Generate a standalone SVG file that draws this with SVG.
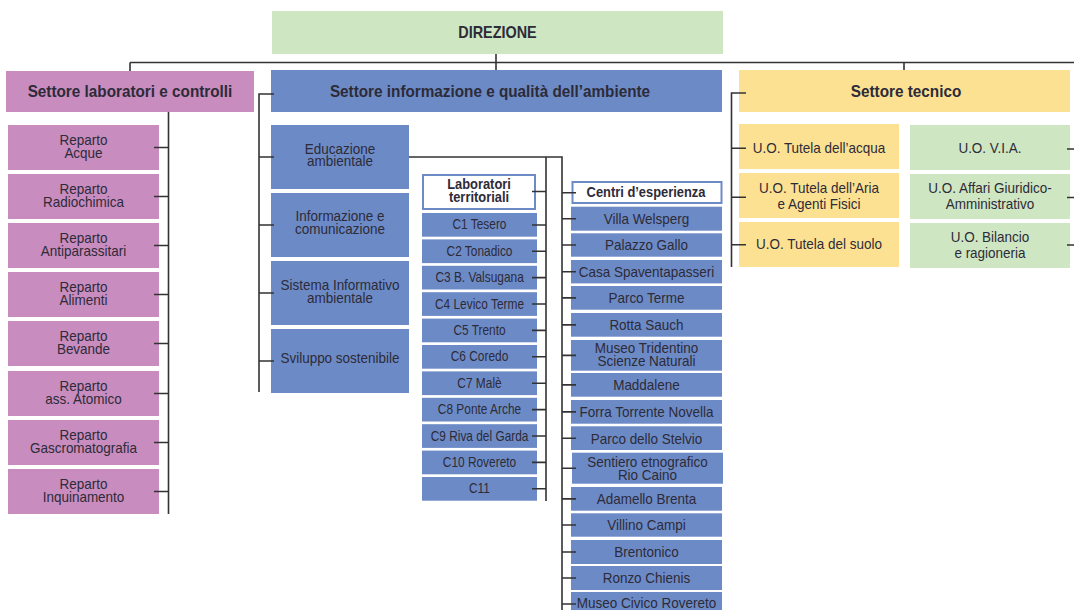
<svg xmlns="http://www.w3.org/2000/svg" width="1074" height="610" viewBox="0 0 1074 610">
<style>
text{font-family:"Liberation Sans",Arial,sans-serif;fill:#2d2b38;text-anchor:middle;transform-box:fill-box;transform-origin:center;transform:scaleX(.9)}
.t{font-size:15px}
.c{font-size:14px;transform:scaleX(.85)}
.h{font-size:17px;font-weight:bold}
.hd{font-size:16px;font-weight:bold}
.hs{font-size:15px;font-weight:bold;transform:scaleX(.86)}
.pk{fill:#c88cbf}
.bl{fill:#6c8ac6}
.ye{fill:#fde192}
.gr{fill:#cfe6c3}
.wh{fill:#fff;stroke:#6c8ac6;stroke-width:2}
.ln{fill:none;stroke:#333;stroke-width:1.6}
</style>
<rect width="1074" height="610" fill="#fff"/>
<g id="direzione"><rect class="gr" x="272" y="11" width="451" height="43"/><text class="hd" x="497.5" y="38.5">DIREZIONE</text></g>
<g id="settore-lab"><rect class="pk" x="6" y="71" width="248" height="41"/><text class="h" x="130" y="97.5">Settore laboratori e controlli</text></g>
<g id="settore-info"><rect class="bl" x="271" y="70" width="451" height="42"/><text class="h" x="490" y="97.5">Settore informazione e qualità dell’ambiente</text></g>
<g id="settore-tecnico"><rect class="ye" x="739" y="70" width="331" height="42"/><text class="h" x="906" y="97.5">Settore tecnico</text></g>

<g id="rep-acque"><rect class="pk" x="8" y="125" width="151" height="45"/><text class="t" x="83.5" y="145.5">Reparto</text><text class="t" x="83.5" y="158">Acque</text></g>
<g id="rep-radio"><rect class="pk" x="8" y="174" width="151" height="45"/><text class="t" x="83.5" y="194.5">Reparto</text><text class="t" x="83.5" y="207">Radiochimica</text></g>
<g id="rep-anti"><rect class="pk" x="8" y="223" width="151" height="45"/><text class="t" x="83.5" y="243.5">Reparto</text><text class="t" x="83.5" y="256">Antiparassitari</text></g>
<g id="rep-alim"><rect class="pk" x="8" y="272" width="151" height="45"/><text class="t" x="83.5" y="292.5">Reparto</text><text class="t" x="83.5" y="305">Alimenti</text></g>
<g id="rep-bev"><rect class="pk" x="8" y="321" width="151" height="45"/><text class="t" x="83.5" y="341.5">Reparto</text><text class="t" x="83.5" y="354">Bevande</text></g>
<g id="rep-ass"><rect class="pk" x="8" y="371" width="151" height="45"/><text class="t" x="83.5" y="391.5">Reparto</text><text class="t" x="83.5" y="404">ass. Atomico</text></g>
<g id="rep-gas"><rect class="pk" x="8" y="420" width="151" height="45"/><text class="t" x="83.5" y="440.5">Reparto</text><text class="t" x="83.5" y="453">Gascromatografia</text></g>
<g id="rep-inq"><rect class="pk" x="8" y="469" width="151" height="45"/><text class="t" x="83.5" y="489.5">Reparto</text><text class="t" x="83.5" y="502">Inquinamento</text></g>

<g id="info-edu"><rect class="bl" x="271" y="125" width="138" height="64"/><text class="t" x="340" y="154">Educazione</text><text class="t" x="340" y="166.5">ambientale</text></g>
<g id="info-com"><rect class="bl" x="271" y="193" width="138" height="64"/><text class="t" x="340" y="221.5">Informazione e</text><text class="t" x="340" y="234">comunicazione</text></g>
<g id="info-sis"><rect class="bl" x="271" y="261" width="138" height="64"/><text class="t" x="340" y="290">Sistema Informativo</text><text class="t" x="340" y="303">ambientale</text></g>
<g id="info-svi"><rect class="bl" x="271" y="329" width="138" height="64"/><text class="t" x="340" y="363">Sviluppo sostenibile</text></g>

<g id="lab-terr"><rect class="wh" x="423" y="175" width="112" height="34"/><text class="hs" x="479" y="189.5">Laboratori</text><text class="hs" x="479" y="202">territoriali</text></g>
<g id="c1"><rect class="bl" x="422" y="213" width="115" height="23.7"/><text class="c" x="479.5" y="229.5">C1 Tesero</text></g>
<g id="c2"><rect class="bl" x="422" y="239.4" width="115" height="23.7"/><text class="c" x="479.5" y="255.9">C2 Tonadico</text></g>
<g id="c3"><rect class="bl" x="422" y="265.8" width="115" height="23.7"/><text class="c" x="479.5" y="282.3">C3 B. Valsugana</text></g>
<g id="c4"><rect class="bl" x="422" y="292.2" width="115" height="23.7"/><text class="c" x="479.5" y="308.7">C4 Levico Terme</text></g>
<g id="c5"><rect class="bl" x="422" y="318.6" width="115" height="23.7"/><text class="c" x="479.5" y="335.1">C5 Trento</text></g>
<g id="c6"><rect class="bl" x="422" y="345" width="115" height="23.7"/><text class="c" x="479.5" y="361.5">C6 Coredo</text></g>
<g id="c7"><rect class="bl" x="422" y="371.4" width="115" height="23.7"/><text class="c" x="479.5" y="387.9">C7 Malè</text></g>
<g id="c8"><rect class="bl" x="422" y="397.8" width="115" height="23.7"/><text class="c" x="479.5" y="414.3">C8 Ponte Arche</text></g>
<g id="c9"><rect class="bl" x="422" y="424.2" width="115" height="23.7"/><text class="c" x="479.5" y="440.7">C9 Riva del Garda</text></g>
<g id="c10"><rect class="bl" x="422" y="450.6" width="115" height="23.7"/><text class="c" x="479.5" y="467.1">C10 Rovereto</text></g>
<g id="c11"><rect class="bl" x="422" y="477" width="115" height="23.7"/><text class="c" x="479.5" y="493.5">C11</text></g>

<g id="centri"><rect class="wh" x="572.5" y="182" width="149" height="21"/><text class="hs" x="646" y="197">Centri d’esperienza</text></g>
<g id="ce1"><rect class="bl" x="571" y="206.7" width="151" height="24"/><text class="t" x="646.5" y="224">Villa Welsperg</text></g>
<g id="ce2"><rect class="bl" x="571" y="233.3" width="151" height="23.4"/><text class="t" x="646.5" y="250.5">Palazzo Gallo</text></g>
<g id="ce3"><rect class="bl" x="571" y="260" width="151" height="23.4"/><text class="t" x="646.5" y="277.2">Casa Spaventapasseri</text></g>
<g id="ce4"><rect class="bl" x="571" y="286" width="151" height="23.7"/><text class="t" x="646.5" y="303.4">Parco Terme</text></g>
<g id="ce5"><rect class="bl" x="571" y="313" width="151" height="23.7"/><text class="t" x="646.5" y="330.4">Rotta Sauch</text></g>
<g id="ce6"><rect class="bl" x="571" y="340" width="151" height="30.7"/><text class="t" x="646.5" y="353.5">Museo Tridentino</text><text class="t" x="646.5" y="366">Scienze Naturali</text></g>
<g id="ce7"><rect class="bl" x="571" y="373" width="151" height="23.7"/><text class="t" x="646.5" y="390.4">Maddalene</text></g>
<g id="ce8"><rect class="bl" x="571" y="400" width="151" height="23.7"/><text class="t" x="646.5" y="417.4">Forra Torrente Novella</text></g>
<g id="ce9"><rect class="bl" x="571" y="426.3" width="151" height="23.7"/><text class="t" x="646.5" y="443.7">Parco dello Stelvio</text></g>
<g id="ce10"><rect class="bl" x="572" y="452.7" width="151" height="31"/><text class="t" x="647.5" y="467.3">Sentiero etnografico</text><text class="t" x="647.5" y="480">Rio Caino</text></g>
<g id="ce11"><rect class="bl" x="571" y="487" width="151" height="23.7"/><text class="t" x="646.5" y="504.4">Adamello Brenta</text></g>
<g id="ce12"><rect class="bl" x="571" y="513.3" width="151" height="23.4"/><text class="t" x="646.5" y="530.5">Villino Campi</text></g>
<g id="ce13"><rect class="bl" x="571" y="540" width="151" height="24"/><text class="t" x="646.5" y="557.4">Brentonico</text></g>
<g id="ce14"><rect class="bl" x="571" y="566" width="151" height="24"/><text class="t" x="646.5" y="583.4">Ronzo Chienis</text></g>
<g id="ce15"><rect class="bl" x="571" y="592" width="151" height="24"/><text class="t" x="646.5" y="608">Museo Civico Rovereto</text></g>

<g id="uo-acqua"><rect class="ye" x="739" y="124" width="160" height="45"/><text class="t" x="819" y="153">U.O. Tutela dell’acqua</text></g>
<g id="uo-aria"><rect class="ye" x="739" y="173" width="160" height="45"/><text class="t" x="819" y="193.3">U.O. Tutela dell’Aria</text><text class="t" x="819" y="209.3">e Agenti Fisici</text></g>
<g id="uo-suolo"><rect class="ye" x="739" y="222" width="160" height="45"/><text class="t" x="819" y="249.5">U.O. Tutela del suolo</text></g>
<g id="uo-via"><rect class="gr" x="910" y="125" width="160" height="45"/><text class="t" x="990" y="153">U.O. V.I.A.</text></g>
<g id="uo-affari"><rect class="gr" x="910" y="174" width="160" height="45"/><text class="t" x="990" y="193.3">U.O. Affari Giuridico-</text><text class="t" x="990" y="209.3">Amministrativo</text></g>
<g id="uo-bilancio"><rect class="gr" x="910" y="223" width="160" height="45"/><text class="t" x="990" y="241.7">U.O. Bilancio</text><text class="t" x="990" y="257.7">e ragioneria</text></g>

<g id="connectors" class="ln">
<path d="M130 62.5H1074M496 54V70M130 62.5V71M904 62.5V70"/>
<path d="M168.5 112V514M154 147.5H168.5M154 196.5H168.5M154 245.5H168.5M154 294.5H168.5M154 343.5H168.5M154 393.5H168.5M154 442.5H168.5M154 491.5H168.5"/>
<path d="M274 94H259V392M259 157H274M259 225H274M259 293H274M259 361H274"/>
<path d="M409 157H562V610M546 157V501"/>
<path d="M532 191.5H546M532 225H546M532 251.2H546M532 277.6H546M532 304H546M532 330.4H546M532 356.8H546M532 383.2H546M532 409.6H546M532 436H546M532 462.4H546M532 488.8H546"/>
<path d="M562 192.7H576M562 218.7H576M562 245H576M562 271.7H576M562 297.9H576M562 324.9H576M562 355.4H576M562 384.9H576M562 411.9H576M562 438.2H576M562 468.2H576M562 498.9H576M562 525H576M562 552H576M562 578H576M562 604H576"/>
<path d="M746 93H731.5V267M731.5 148.3H746M731.5 197.3H746M731.5 244.7H746"/>
<path d="M1067 149H1074M1067 197.5H1074M1067 245H1074"/>
</g>
</svg>
